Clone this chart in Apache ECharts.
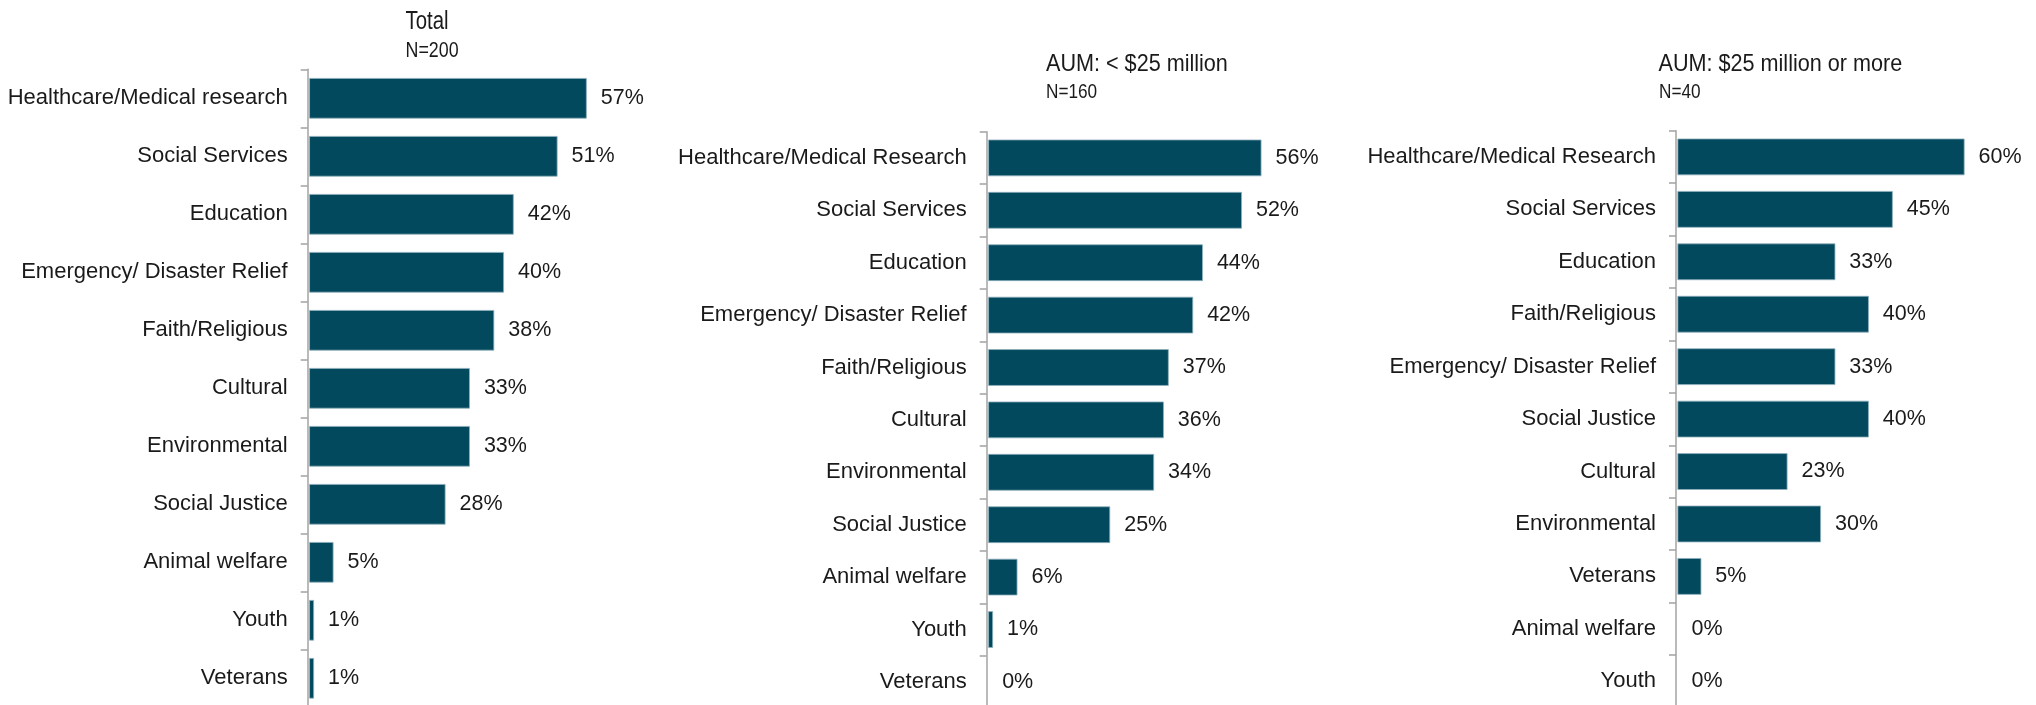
<!DOCTYPE html>
<html>
<head>
<meta charset="utf-8">
<title>Cause areas supported</title>
<script src="https://cdn.jsdelivr.net/npm/echarts@6/dist/echarts.min.js"></script>
<style>
  html, body { margin: 0; padding: 0; background: #ffffff; }
  #chart { width: 2036px; height: 705px; }
</style>
</head>
<body>
<div id="chart"></div>
<script>
// Share of respondents supporting each cause area, by asset band.
const categoriesTotal = ['Healthcare/Medical research', 'Social Services', 'Education', 'Emergency/ Disaster Relief', 'Faith/Religious', 'Cultural', 'Environmental', 'Social Justice', 'Animal welfare', 'Youth', 'Veterans'];
const valuesTotal = [57, 51, 42, 40, 38, 33, 33, 28, 5, 1, 1];

const categoriesSmall = ['Healthcare/Medical Research', 'Social Services', 'Education', 'Emergency/ Disaster Relief', 'Faith/Religious', 'Cultural', 'Environmental', 'Social Justice', 'Animal welfare', 'Youth', 'Veterans'];
const valuesSmall = [56, 52, 44, 42, 37, 36, 34, 25, 6, 1, 0];

const categoriesLarge = ['Healthcare/Medical Research', 'Social Services', 'Education', 'Faith/Religious', 'Emergency/ Disaster Relief', 'Social Justice', 'Cultural', 'Environmental', 'Veterans', 'Animal welfare', 'Youth'];
const valuesLarge = [60, 45, 33, 40, 33, 40, 23, 30, 5, 0, 0];

const panelTitles = ['Total', 'AUM: < $25 million', 'AUM: $25 million or more'];
const panelSubtitles = ['N=200', 'N=160', 'N=40'];

const BAR = '#03495e';
const TEXT = '#1a1a1a';
const AXIS_GREY = '#a3a3a3';
const SANS = "'Liberation Sans', Arial, sans-serif";

// Panel layout: plot area, and heading placement (headings are set in a
// horizontally condensed face, built from the sans face with scaleX).
const panels = [
  { cats: categoriesTotal, vals: valuesTotal,
    grid: { left: 307.7, top: 69.3, width: 488.5, height: 638 },
    head: { x: 405.5, y: 22.2, size: 25.5, sx: 0.8 },
    sub: { x: 405.5, y: 50.8, size: 21.5, sx: 0.83 } },
  { cats: categoriesSmall, vals: valuesSmall,
    grid: { left: 986.7, top: 131.7, width: 489.5, height: 576.4 },
    head: { x: 1046, y: 64.7, size: 24, sx: 0.9 },
    sub: { x: 1046, y: 92.6, size: 20, sx: 0.86 } },
  { cats: categoriesLarge, vals: valuesLarge,
    grid: { left: 1676, top: 130.7, width: 480, height: 576.8 },
    head: { x: 1658.5, y: 64.7, size: 24, sx: 0.9 },
    sub: { x: 1659, y: 92.6, size: 20, sx: 0.86 } }
];

function headingText(str, pos) {
  return {
    type: 'text',
    x: pos.x,
    y: pos.y,
    scaleX: pos.sx,
    silent: true,
    style: {
      text: str,
      font: 'normal ' + pos.size + "px 'Liberation Sans', Arial, sans-serif",
      fill: TEXT,
      textAlign: 'left',
      align: 'left',
      textVerticalAlign: 'middle',
      verticalAlign: 'middle'
    }
  };
}

const chart = echarts.init(document.getElementById('chart'), null, { renderer: 'canvas' });

const option = {
  backgroundColor: '#ffffff',
  animation: false,
  graphic: panels.flatMap((p, i) => [
    headingText(panelTitles[i], p.head),
    headingText(panelSubtitles[i], p.sub)
  ]),
  grid: panels.map(p => Object.assign({ outerBoundsMode: 'none', containLabel: false }, p.grid)),
  xAxis: panels.map((p, i) => ({
    type: 'value',
    gridIndex: i,
    min: -0.3,
    max: 100,
    show: false
  })),
  yAxis: panels.map((p, i) => ({
    type: 'category',
    gridIndex: i,
    data: p.cats,
    inverse: true,
    axisLine: { show: true, onZero: false, lineStyle: { color: AXIS_GREY, width: 1.5 } },
    axisTick: { show: true, length: 7, lineStyle: { color: AXIS_GREY, width: 1.5 } },
    axisLabel: { margin: 20, fontFamily: SANS, fontSize: 22, color: TEXT },
    splitLine: { show: false }
  })),
  series: panels.map((p, i) => ({
    type: 'bar',
    xAxisIndex: i,
    yAxisIndex: i,
    // zero-value bars get no edge line so nothing is drawn for them
    data: p.vals.map(v => (v > 0 ? v : { value: v, itemStyle: { borderWidth: 0 } })),
    barWidth: '70%',
    itemStyle: { color: BAR, borderColor: '#8fb0bc', borderWidth: 0.8 },
    label: {
      show: true,
      position: 'right',
      distance: 14,
      formatter: '{c}%',
      fontFamily: SANS,
      fontSize: 21.5,
      color: TEXT
    }
  }))
};

chart.setOption(option);
</script>
</body>
</html>
